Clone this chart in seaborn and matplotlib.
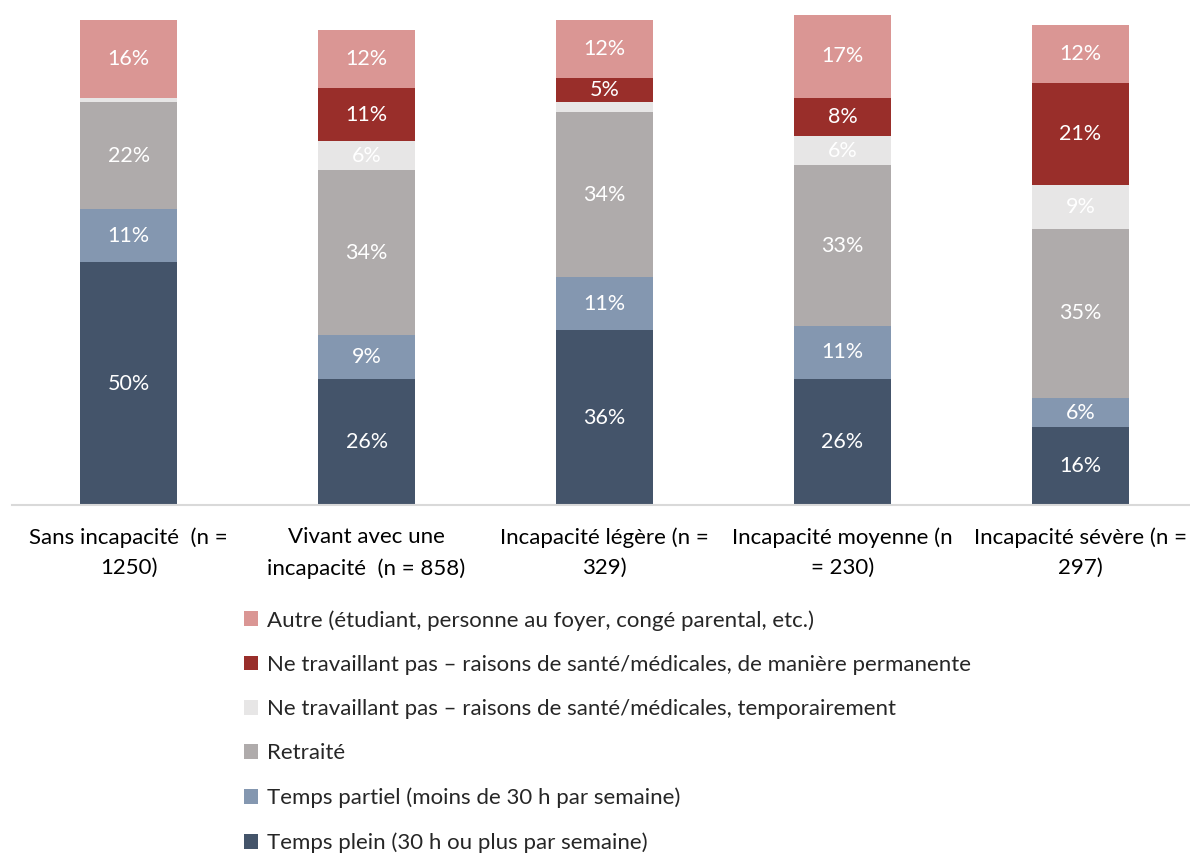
import matplotlib
matplotlib.use("Agg")
import matplotlib.pyplot as plt
import seaborn as sns
import pandas as pd
import numpy as np
from matplotlib.patches import Patch

categories = ["Sans incapacité  (n =\n1250)",
              "Vivant avec une\nincapacité  (n = 858)",
              "Incapacité légère (n =\n329)",
              "Incapacité moyenne (n\n= 230)",
              "Incapacité sévère (n =\n297)"]

series_names = ["Temps plein (30 h ou plus par semaine)",
                "Temps partiel (moins de 30 h par semaine)",
                "Retraité",
                "Ne travaillant pas – raisons de santé/médicales, temporairement",
                "Ne travaillant pas – raisons de santé/médicales, de manière permanente",
                "Autre (étudiant, personne au foyer, congé parental, etc.)"]

temps_plein = [50, 26, 36, 26, 16]
temps_partiel = [11, 9, 11, 11, 6]
retraite = [22, 34, 34, 33, 35]
temporaire = [1, 6, 2, 6, 9]
permanent = [0, 11, 5, 8, 21]
autre = [16, 12, 12, 17, 12]

colors = ["#44546A", "#8497B0", "#AFABAB", "#E7E6E6", "#992E2A", "#DA9694"]

series = [temps_plein, temps_partiel, retraite, temporaire, permanent, autre]

sns.set_theme(style="white")
plt.rcParams['font.family'] = ['Lato', 'DejaVu Sans']

W, H = 1190, 855
fig = plt.figure(figsize=(W / 100, H / 100), dpi=100)
ax_left, ax_right = 12, 1190
ax_top, ax_bottom = 5, 505
ax = fig.add_axes([ax_left / W, 1 - ax_bottom / H, (ax_right - ax_left) / W, (ax_bottom - ax_top) / H])

vals = np.array(series, dtype=float)
cums = np.cumsum(vals, axis=0)

# draw cumulative bars from the top series down so each overlays the next
for i in range(len(series) - 1, -1, -1):
    df = pd.DataFrame({"cat": categories, "val": cums[i]})
    sns.barplot(data=df, x="cat", y="val", order=categories, color=colors[i],
                saturation=1, width=0.41, ax=ax, edgecolor="none", linewidth=0)

for i in range(len(series)):
    for j in range(len(categories)):
        v = vals[i, j]
        if v >= 3:
            ax.text(j, cums[i, j] - v / 2, f"{int(round(v))}%", ha="center", va="center",
                    color="white", fontsize=15.5)

ax.set_xlim(-0.49, 4.46)
ax.set_ylim(0, (ax_bottom - ax_top) / 4.85)
ax.set_xlabel("")
ax.set_ylabel("")
ax.set_yticks([])
for s in ["top", "right", "left"]:
    ax.spines[s].set_visible(False)
ax.spines["bottom"].set_color("#D9D9D9")
ax.spines["bottom"].set_linewidth(1.5)
ax.tick_params(axis="x", length=0, pad=16)
for lbl in ax.get_xticklabels():
    lbl.set_fontsize(16)
    lbl.set_color("black")
    lbl.set_linespacing(1.65)
    lbl.set_ha("center")

handles = [Patch(facecolor=colors[i], edgecolor="none", label=series_names[i])
           for i in range(len(series) - 1, -1, -1)]
fig.legend(handles=handles, loc="upper left",
           bbox_to_anchor=(244 / W, 1 - 610 / H), frameon=False,
           fontsize=16, labelspacing=1.09, handlelength=0.65, handleheight=0.65,
           handletextpad=0.4, borderpad=0, borderaxespad=0)

fig.savefig("out.png", dpi=100)
